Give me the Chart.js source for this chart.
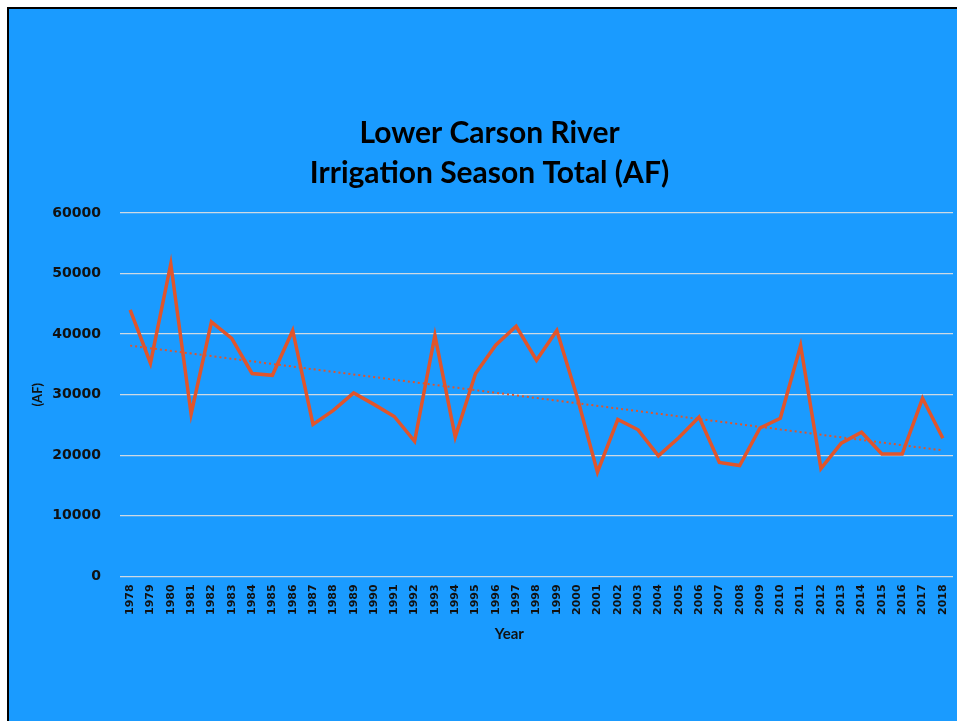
<!DOCTYPE html>
<html>
<head>
<meta charset="utf-8">
<title>Lower Carson River - Irrigation Season Total</title>
<script src="https://cdn.jsdelivr.net/npm/chart.js@4"></script>
<style>
    html, body { margin: 0; padding: 0; background: #fff; overflow: hidden; }
    #frame {
        position: absolute;
        left: 7px;
        top: 7px;
        width: 1000px;
        height: 800px;
        border-top: 2px solid #000;
        border-left: 2px solid #000;
        background: #1a9bff;
    }
    #wrap { position: absolute; left: 0; top: 0; width: 957px; height: 721px; }
</style>
</head>
<body>
<div id="frame"></div>
<div id="wrap"><canvas id="flowChart"></canvas></div>
<script>
// Water years on the x axis
const years = [
    '1978', '1979', '1980', '1981', '1982', '1983', '1984', '1985', '1986', '1987',
    '1988', '1989', '1990', '1991', '1992', '1993', '1994', '1995', '1996', '1997',
    '1998', '1999', '2000', '2001', '2002', '2003', '2004', '2005', '2006', '2007',
    '2008', '2009', '2010', '2011', '2012', '2013', '2014', '2015', '2016', '2017',
    '2018'
];

// Irrigation season total, acre-feet
const seasonTotals = [
    44000, 35200, 51600, 26800, 42000, 39300, 33500, 33200, 40600, 25100,
    27400, 30300, 28400, 26400, 22300, 39800, 23000, 33500, 38200, 41300,
    35700, 40600, 29600, 17200, 25900, 24200, 19900, 22900, 26300, 18800,
    18300, 24500, 26100, 38100, 17800, 22000, 23800, 20200, 20200, 29400,
    22800
];

// Linear trend, first and last year
const trendYears = ['1978', '2018'];
const trendValues = [38100, 20800];

const yTicks = [0, 10000, 20000, 30000, 40000, 50000, 60000];

const lineColor = '#e0552c';
const textColor = '#111';
const fontFamily = 'Lato, "Open Sans", sans-serif';
const tickFamily = '"DejaVu Sans", Verdana, sans-serif';

document.addEventListener('DOMContentLoaded', function() {
    renderChart();
});

function renderChart() {
    const ctx = document.getElementById('flowChart').getContext('2d');

    new Chart(ctx, {
        type: 'line',
        data: {
            labels: years,
            datasets: [
                {
                    label: 'Total (AF)',
                    data: seasonTotals,
                    borderColor: lineColor,
                    borderWidth: 3.5,
                    pointRadius: 0,
                    tension: 0,
                    fill: false
                },
                {
                    label: 'Trend',
                    data: trendYears.map((y, i) => ({ x: y, y: trendValues[i] })),
                    borderColor: lineColor,
                    borderWidth: 2,
                    borderDash: [2, 3],
                    pointRadius: 0,
                    tension: 0,
                    fill: false
                }
            ]
        },
        options: {
            responsive: true,
            maintainAspectRatio: false,
            animation: false,
            layout: {
                padding: { left: 26, right: 4, top: 0, bottom: 78 }
            },
            plugins: {
                legend: { display: false },
                tooltip: { enabled: false },
                title: {
                    display: true,
                    text: ['Lower Carson River', 'Irrigation Season Total (AF)'],
                    color: '#000',
                    font: { family: fontFamily, size: 30, weight: 'bold', lineHeight: 1.333 },
                    padding: { top: 113, bottom: 20 }
                }
            },
            scales: {
                x: {
                    offset: true,
                    afterFit: scale => {
                        // no extra room for the rotated end labels
                        scale.paddingLeft = 0;
                        scale.paddingRight = 0;
                    },
                    grid: { display: false, drawTicks: false },
                    border: { display: false },
                    ticks: {
                        color: textColor,
                        font: { family: tickFamily, size: 11, weight: 'bold' },
                        maxRotation: 90,
                        minRotation: 90,
                        autoSkip: false,
                        padding: 8
                    },
                    title: {
                        display: true,
                        // trailing spaces nudge the title a little left of centre
                        text: 'Year' + '\u00a0'.repeat(15),
                        color: textColor,
                        font: { family: fontFamily, size: 15, weight: 'bold' },
                        padding: { top: 2, bottom: 0 }
                    }
                },
                y: {
                    min: 0,
                    max: 60000,
                    afterBuildTicks: scale => {
                        scale.ticks = yTicks.map(v => ({ value: v }));
                    },
                    afterFit: scale => {
                        scale.width = 94;
                    },
                    grid: {
                        color: 'rgba(225, 225, 225, 0.9)',
                        lineWidth: 1.3,
                        drawTicks: false
                    },
                    border: { display: false },
                    ticks: {
                        color: textColor,
                        font: { family: tickFamily, size: 14, weight: 'bold' },
                        padding: 19,
                        callback: v => String(v)
                    },
                    title: {
                        display: true,
                        text: '(AF)',
                        color: textColor,
                        font: { family: fontFamily, size: 13, weight: 'bold' },
                        padding: { top: 4, bottom: 4 }
                    }
                }
            }
        }
    });
}
</script>
</body>
</html>
